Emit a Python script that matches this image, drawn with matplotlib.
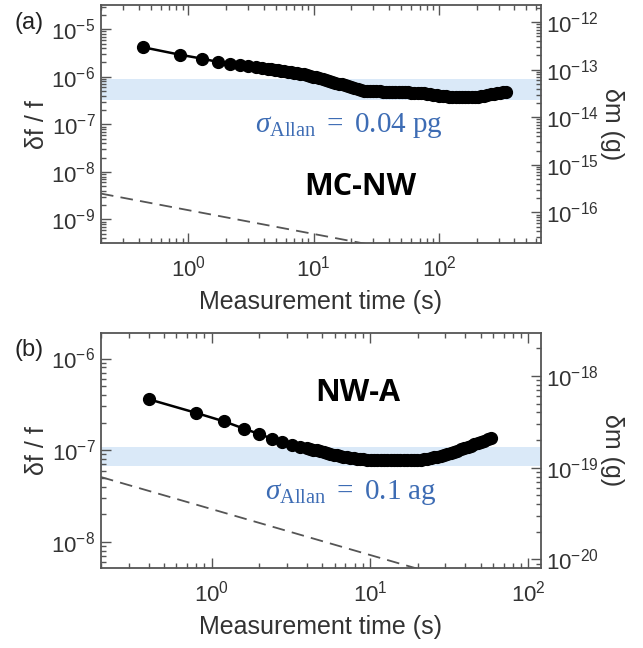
import numpy as np
import matplotlib
matplotlib.use('Agg')
import matplotlib.pyplot as plt
from matplotlib.ticker import FixedLocator, NullFormatter

plt.rcParams['font.family'] = ['Liberation Sans', 'DejaVu Sans']
plt.rcParams['mathtext.fontset'] = 'custom'
plt.rcParams['mathtext.rm'] = 'Liberation Sans'
plt.rcParams['mathtext.it'] = 'Liberation Serif:italic'
plt.rcParams['mathtext.sf'] = 'Liberation Serif'
plt.rcParams['axes.unicode_minus'] = False

# (a) MC-NW
t_a = [0.43, 0.86, 1.29, 1.72, 2.15, 2.58, 3.01, 3.44, 3.87, 4.3,
       4.6, 4.9, 5.2, 5.5, 5.8, 6.2, 6.6, 7.0, 7.4, 7.8, 8.3, 8.8, 9.3, 9.9,
       10.5, 11.1, 11.8, 12.5, 13.2, 14.0, 14.9, 15.8, 16.7, 17.7, 18.8, 19.9,
       21.1, 22.4, 23.7, 25.1, 26.6, 28.2, 29.9, 31.7, 33.6, 35.6, 37.7, 40.0,
       42.4, 44.9, 47.6, 50.5, 53.5, 56.7, 60.1, 63.7, 67.5, 71.6, 75.9, 80.4,
       85.2, 90.3, 95.7, 101, 108, 114, 121, 128, 136, 144, 153, 162, 172, 182,
       193, 204, 217, 230, 243, 258, 273, 290, 307, 326, 340]
adev_a = [4.2e-6, 2.9e-6, 2.4e-6, 2.05e-6, 1.9e-6, 1.78e-6, 1.68e-6, 1.6e-6, 1.53e-6, 1.47e-6,
          1.44e-6, 1.41e-6, 1.38e-6, 1.35e-6, 1.32e-6, 1.29e-6, 1.26e-6, 1.22e-6, 1.19e-6,
          1.16e-6, 1.12e-6, 1.09e-6, 1.05e-6, 1.01e-6,
          9.7e-7, 9.3e-7, 8.9e-7, 8.6e-7, 8.2e-7, 7.9e-7, 7.5e-7, 7.2e-7, 6.9e-7, 6.6e-7,
          6.3e-7, 6.0e-7,
          5.7e-7, 5.45e-7, 5.25e-7, 5.1e-7, 5.0e-7, 4.95e-7, 4.93e-7, 4.92e-7, 4.91e-7,
          4.9e-7, 4.9e-7, 4.89e-7,
          4.88e-7, 4.86e-7, 4.83e-7, 4.8e-7, 4.75e-7, 4.7e-7, 4.65e-7, 4.6e-7, 4.55e-7,
          4.5e-7, 4.45e-7, 4.4e-7,
          4.3e-7, 4.2e-7, 4.1e-7, 4.0e-7, 3.92e-7, 3.85e-7, 3.8e-7, 3.75e-7, 3.72e-7, 3.7e-7,
          3.68e-7, 3.68e-7, 3.7e-7, 3.72e-7,
          3.76e-7, 3.82e-7, 3.9e-7, 4.0e-7, 4.1e-7, 4.25e-7, 4.4e-7, 4.55e-7, 4.65e-7,
          4.75e-7, 4.8e-7]
limit_t_a = [0.2, 30]
limit_a = [3.5e-9, 2.86e-10]
band_a = [3.2e-7, 8.9e-7]
mass_k_a = 7.1e-8   # g per unit df/f

# (b) NW-A
t_b = [0.4, 0.8, 1.2, 1.6, 2.0, 2.4, 2.8, 3.2, 3.6,
       4.0, 4.2, 4.4, 4.6, 4.85, 5.1, 5.35, 5.6, 5.9, 6.2, 6.5, 6.8, 7.15, 7.5, 7.9,
       8.3, 8.7, 9.1, 9.6, 10.1, 10.6, 11.1, 11.7, 12.2, 12.8, 13.5, 14.2, 14.9,
       15.6, 16.4, 17.2, 18.1, 19.0, 19.9, 20.9, 22.0, 23.1, 24.2, 25.4, 26.7,
       28.0, 29.4, 30.9, 32.4, 34.0, 35.7, 37.5, 39.4, 41.4, 43.5, 45.6, 47.9,
       50.3, 52.8, 55.4, 58.0]
adev_b = [3.6e-7, 2.55e-7, 2.06e-7, 1.72e-7, 1.5e-7, 1.34e-7, 1.23e-7, 1.15e-7, 1.09e-7,
          1.05e-7, 1.03e-7, 1.01e-7, 9.95e-8, 9.75e-8, 9.55e-8, 9.35e-8, 9.15e-8, 8.95e-8,
          8.8e-8, 8.65e-8, 8.5e-8, 8.4e-8, 8.3e-8, 8.2e-8,
          8.1e-8, 8.03e-8, 7.97e-8, 7.9e-8, 7.86e-8, 7.83e-8, 7.81e-8, 7.8e-8, 7.8e-8,
          7.8e-8, 7.8e-8, 7.8e-8, 7.8e-8,
          7.8e-8, 7.8e-8, 7.8e-8, 7.81e-8, 7.83e-8, 7.86e-8, 7.92e-8, 8.0e-8, 8.1e-8,
          8.22e-8, 8.36e-8, 8.52e-8,
          8.7e-8, 8.9e-8, 9.12e-8, 9.35e-8, 9.6e-8, 9.88e-8, 1.02e-7, 1.05e-7, 1.085e-7,
          1.12e-7, 1.155e-7, 1.19e-7,
          1.23e-7, 1.27e-7, 1.32e-7, 1.37e-7]
limit_t_b = [0.2, 20]
limit_b = [5.1e-8, 5.1e-9]
band_b = [6.7e-8, 1.08e-7]
mass_k_b = 1.55e-12

assert len(t_a) == len(adev_a) and len(t_b) == len(adev_b)

panels = [
    dict(t=t_a, y=adev_a, lt=limit_t_a, ly=limit_a, band=band_a, k=mass_k_a,
         xlim=(0.2, 650), ylim=(3.2e-10, 3.2e-5), tag='(a)', name='MC-NW',
         sigma=r'$\sigma_{\mathsf{Allan}}\mathsf{\ =\ 0.04\ pg}$',
         rect=[0.157, 0.625, 0.684, 0.367], name_xy=(0.589, 0.235), sig_xy=(0.564, 0.496)),
    dict(t=t_b, y=adev_b, lt=limit_t_b, ly=limit_b, band=band_b, k=mass_k_b,
         xlim=(0.2, 120), ylim=(5.2e-9, 1.9e-6), tag='(b)', name='NW-A',
         sigma=r'$\sigma_{\mathsf{Allan}}\mathsf{\ =\ 0.1\ ag}$',
         rect=[0.157, 0.1235, 0.684, 0.3627], name_xy=(0.584, 0.745), sig_xy=(0.568, 0.323)),
]


def log_ticks(lo, hi):
    d = np.arange(np.floor(np.log10(lo)), np.ceil(np.log10(hi)) + 1)
    major = [10.0 ** e for e in d if lo <= 10.0 ** e <= hi]
    minor = [m * 10.0 ** e for e in d for m in range(2, 10) if lo <= m * 10.0 ** e <= hi]
    return major, minor


def set_log_ticks(axis, lo, hi):
    major, minor = log_ticks(lo, hi)
    axis.set_major_locator(FixedLocator(major))
    axis.set_minor_locator(FixedLocator(minor))
    axis.set_minor_formatter(NullFormatter())


fig = plt.figure(figsize=(6.43, 6.48), dpi=100)
frame = '#555555'
txt = '#333333'
blue = '#3d6cb4'

for p in panels:
    ax = fig.add_axes(p['rect'])
    ax.set_xscale('log')
    ax.set_yscale('log')
    ax.axhspan(p['band'][0], p['band'][1], color='#dae9f8', zorder=0, lw=0)
    ax.plot(p['lt'], p['ly'], color='#555555', lw=1.3, dashes=(7, 4))
    ax.plot(p['t'], p['y'], '-o', color='black', lw=1.8, ms=8.5)
    ax.set_xlim(*p['xlim'])
    ax.set_ylim(*p['ylim'])

    set_log_ticks(ax.xaxis, *p['xlim'])
    set_log_ticks(ax.yaxis, *p['ylim'])
    ax.tick_params(which='both', direction='in', top=True, right=False,
                   color=frame, width=1, labelsize=16, labelcolor=txt)
    ax.tick_params(which='major', length=7)
    ax.tick_params(which='minor', length=3.5)
    ax.tick_params(axis='x', pad=9)
    ax.tick_params(axis='y', pad=4)
    for s in ax.spines.values():
        s.set_color(frame)
        s.set_linewidth(1.3)

    ax2 = ax.twinx()
    ax2.set_yscale('log')
    mlo, mhi = p['ylim'][0] * p['k'], p['ylim'][1] * p['k']
    ax2.set_ylim(mlo, mhi)
    set_log_ticks(ax2.yaxis, mlo, mhi)
    ax2.tick_params(which='both', direction='in', color=frame, width=1,
                    labelsize=16, labelcolor=txt, pad=4)
    ax2.tick_params(which='major', length=7)
    ax2.tick_params(which='minor', length=3.5)
    for s in ax2.spines.values():
        s.set_visible(False)

    ax.set_xlabel('Measurement time (s)', fontsize=18, color=txt, labelpad=6)
    ax.set_ylabel('δf / f', fontsize=18, color=txt, labelpad=2)
    ax2.set_ylabel('δm (g)', fontsize=18, color=txt, rotation=270, labelpad=18)

    ax.text(*p['name_xy'], p['name'], transform=ax.transAxes, ha='center', va='center',
            fontsize=22, fontweight='bold', family='Open Sans', color='black')
    ax.text(*p['sig_xy'], p['sigma'], transform=ax.transAxes, ha='center', va='center',
            fontsize=21, color=blue)
    fig.text(0.045, p['rect'][1] + p['rect'][3] - 0.027, p['tag'], ha='center',
             va='center', fontsize=17, color='#222222')

fig.savefig('out.png', dpi=100)
